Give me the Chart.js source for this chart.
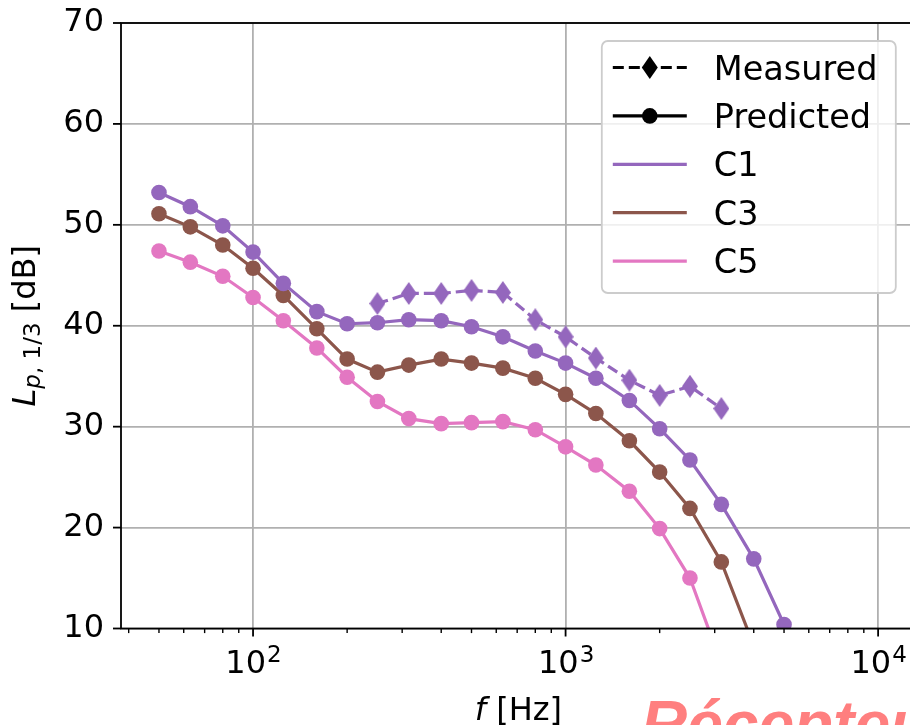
<!DOCTYPE html>
<html>
<head>
<meta charset="utf-8">
<script src="https://cdn.jsdelivr.net/npm/chart.js@4.4.1/dist/chart.umd.min.js"></script>
<style>
  html, body { margin: 0; padding: 0; background: #fff; overflow: hidden; }
  #wrap { position: relative; width: 910px; height: 725px; overflow: hidden; }
  #chart { position: absolute; left: 0; top: 0; }
  #stamp { position: absolute; left: 641px; top: 692px; font: italic bold 64px 'Liberation Sans', sans-serif;
           color: #ff7f7f; white-space: nowrap; line-height: 1; }
</style>
</head>
<body>
<div id="wrap">
  <canvas id="chart" width="930" height="725"></canvas>
  <div id="stamp">Récepteur</div>
</div>
<script>
// third-octave band centres [Hz]
const freqs = [50, 63, 80, 100, 125, 160, 200, 250, 315, 400, 500, 630, 800, 1000, 1250, 1600, 2000, 2500, 3150, 4000, 5000];

// predicted levels [dB] (null = below the plot)
const predC1 = [53.2, 51.8, 49.9, 47.3, 44.2, 41.4, 40.2, 40.3, 40.6, 40.5, 39.9, 38.9, 37.5, 36.3, 34.8, 32.6, 29.8, 26.7, 22.3, 16.9, 10.4];
const predC3 = [51.1, 49.8, 48.0, 45.7, 43.0, 39.7, 36.7, 35.4, 36.1, 36.7, 36.3, 35.8, 34.8, 33.2, 31.3, 28.6, 25.5, 21.9, 16.6, 8.3, null];
const predC5 = [47.4, 46.3, 44.9, 42.8, 40.5, 37.8, 34.9, 32.5, 30.8, 30.3, 30.4, 30.5, 29.7, 28.0, 26.2, 23.6, 19.9, 15.0, 6.5, null, null];

// measured levels, C1 only
const measFreqs = [250, 315, 400, 500, 630, 800, 1000, 1250, 1600, 2000, 2500, 3150];
const measC1 = [42.2, 43.2, 43.2, 43.5, 43.3, 40.6, 38.9, 36.8, 34.6, 33.1, 34.0, 31.8];

// axes
const xMin = 37.8, xMax = 13200;
const xMajorTicks = [100, 1000, 10000];
const yMin = 10, yMax = 70, yStep = 10;

const PURPLE = '#9467bd', BROWN = '#8c564b', PINK = '#e377c2';
const FONT = '"DejaVu Sans", sans-serif';

function toPoints(xs, ys) {
    return xs.map((x, i) => ({ x: x, y: ys[i] })).filter(p => p.y !== null);
}

// thin diamond marker (matplotlib 'd')
function thinDiamond(color, w, h) {
    const c = document.createElement('canvas');
    c.width = w; c.height = h;
    const g = c.getContext('2d');
    g.fillStyle = color;
    g.beginPath();
    g.moveTo(w / 2, 0); g.lineTo(w, h / 2); g.lineTo(w / 2, h); g.lineTo(0, h / 2);
    g.closePath();
    g.fill();
    return c;
}

function predDataset(label, ys, color) {
    return {
        label: label,
        data: toPoints(freqs, ys),
        borderColor: color,
        backgroundColor: color,
        borderWidth: 3.2,
        pointRadius: 7.8,
        pointBorderWidth: 0,
        pointBackgroundColor: color,
        pointHoverRadius: 7.8,
        tension: 0,
        clip: 0
    };
}

const legendItems = [
    { label: 'Measured', color: '#000', dash: [11, 5], marker: 'diamond' },
    { label: 'Predicted', color: '#000', dash: [], marker: 'circle' },
    { label: 'C1', color: PURPLE, dash: [], marker: null },
    { label: 'C3', color: BROWN, dash: [], marker: null },
    { label: 'C5', color: PINK, dash: [], marker: null }
];

// ticks, spines, axis labels drawn the matplotlib way
const axisDecor = {
    id: 'axisDecor',
    afterDatasetsDraw(chart) {
        const { ctx, chartArea: a, scales: { x, y } } = chart;
        ctx.save();
        ctx.strokeStyle = '#000';
        ctx.fillStyle = '#000';

        // spines
        ctx.lineWidth = 1.8;
        ctx.strokeRect(a.left, a.top, a.right - a.left, a.bottom - a.top);

        // y ticks
        for (let v = yMin; v <= yMax; v += yStep) {
            const py = y.getPixelForValue(v);
            ctx.beginPath(); ctx.moveTo(a.left - 8, py); ctx.lineTo(a.left, py); ctx.stroke();
        }
        // x major ticks
        xMajorTicks.forEach(v => {
            const px = x.getPixelForValue(v);
            ctx.beginPath(); ctx.moveTo(px, a.bottom); ctx.lineTo(px, a.bottom + 8); ctx.stroke();
        });
        // x minor ticks
        ctx.lineWidth = 1.4;
        [10, 100, 1000, 10000].forEach(dec => {
            for (let m = 2; m <= 9; m++) {
                const v = dec * m;
                if (v < xMin || v > xMax) continue;
                const px = x.getPixelForValue(v);
                ctx.beginPath(); ctx.moveTo(px, a.bottom); ctx.lineTo(px, a.bottom + 4.6); ctx.stroke();
            }
        });

        // x tick labels 10^n
        ctx.textAlign = 'left';
        ctx.textBaseline = 'alphabetic';
        xMajorTicks.forEach(v => {
            const px = x.getPixelForValue(v);
            const exp = String(Math.round(Math.log10(v)));
            ctx.font = '32px ' + FONT;
            const w1 = ctx.measureText('10').width;
            ctx.font = '23px ' + FONT;
            const w2 = ctx.measureText(exp).width;
            const left = px - (w1 + w2) / 2;
            ctx.font = '32px ' + FONT;
            ctx.fillText('10', left, a.bottom + 44.5);
            ctx.font = '23px ' + FONT;
            ctx.fillText(exp, left + w1 + 1, a.bottom + 33.5);
        });

        // x axis title
        ctx.font = 'italic 32px ' + FONT;
        const wf = ctx.measureText('f').width;
        ctx.font = '32px ' + FONT;
        const wr = ctx.measureText(' [Hz]').width;
        const cx = (a.left + a.right) / 2;
        let tx = cx - (wf + wr) / 2;
        ctx.font = 'italic 32px ' + FONT;
        ctx.fillText('f', tx, a.bottom + 91);
        ctx.font = '32px ' + FONT;
        ctx.fillText(' [Hz]', tx + wf, a.bottom + 91);

        // y axis title  L_{p, 1/3} [dB]
        const parts = [
            { t: 'L', f: 'italic 32px ', dy: 0 },
            { t: 'p', f: 'italic 23px ', dy: 5 },
            { t: ', 1/3', f: '23px ', dy: 5 },
            { t: ' [dB]', f: '32px ', dy: 0 }
        ];
        let total = 0;
        parts.forEach(p => { ctx.font = p.f + FONT; p.w = ctx.measureText(p.t).width; total += p.w; });
        ctx.translate(35, (a.top + a.bottom) / 2);
        ctx.rotate(-Math.PI / 2);
        let px0 = -total / 2;
        parts.forEach(p => {
            ctx.font = p.f + FONT;
            ctx.fillText(p.t, px0, p.dy);
            px0 += p.w;
        });
        ctx.restore();
    },
    afterDraw(chart) {
        const { ctx, chartArea: a } = chart;
        const right = a.right - 20, top = a.top + 18;
        const w = 294, h = 252, left = right - w;
        ctx.save();
        ctx.beginPath();
        ctx.roundRect(left, top, w, h, 6);
        ctx.fillStyle = 'rgba(255,255,255,0.8)';
        ctx.fill();
        ctx.strokeStyle = '#cccccc';
        ctx.lineWidth = 1.8;
        ctx.stroke();

        ctx.font = '33.5px ' + FONT;
        ctx.textAlign = 'left';
        ctx.textBaseline = 'alphabetic';
        legendItems.forEach((it, i) => {
            const base = top + 38.5 + i * 48.4;
            const ly = base - 12;
            ctx.strokeStyle = it.color;
            ctx.fillStyle = it.color;
            ctx.lineWidth = 3.2;
            ctx.setLineDash(it.dash);
            ctx.beginPath(); ctx.moveTo(left + 11, ly); ctx.lineTo(left + 85, ly); ctx.stroke();
            ctx.setLineDash([]);
            const mx = left + 48;
            if (it.marker === 'circle') {
                ctx.beginPath(); ctx.arc(mx, ly, 7.8, 0, Math.PI * 2); ctx.fill();
            } else if (it.marker === 'diamond') {
                ctx.beginPath();
                ctx.moveTo(mx, ly - 11.5); ctx.lineTo(mx + 8, ly); ctx.lineTo(mx, ly + 11.5); ctx.lineTo(mx - 8, ly);
                ctx.closePath(); ctx.fill();
            }
            ctx.fillStyle = '#000';
            ctx.fillText(it.label, left + 112, base);
        });
        ctx.restore();
    }
};

const isDecade = v => Math.abs(Math.log10(v) - Math.round(Math.log10(v))) < 1e-6;

new Chart(document.getElementById('chart'), {
    type: 'line',
    data: {
        datasets: [
            predDataset('C1', predC1, PURPLE),
            predDataset('C3', predC3, BROWN),
            predDataset('C5', predC5, PINK),
            {
                label: 'C1 measured',
                data: toPoints(measFreqs, measC1),
                borderColor: PURPLE,
                backgroundColor: PURPLE,
                borderWidth: 3.2,
                borderDash: [11, 5],
                pointStyle: thinDiamond(PURPLE, 16, 23),
                pointRadius: 11,
                tension: 0,
                clip: 0
            }
        ]
    },
    options: {
        responsive: false,
        animation: false,
        events: [],
        layout: { padding: { top: 23, right: 14, left: 0, bottom: 0 } },
        plugins: {
            legend: { display: false },
            tooltip: { enabled: false }
        },
        scales: {
            x: {
                type: 'logarithmic',
                min: xMin,
                max: xMax,
                afterBuildTicks: s => { s.ticks = xMajorTicks.map(v => ({ value: v })); },
                afterFit: s => { s.height = 96.5; s.paddingLeft = 0; s.paddingRight = 0; },
                ticks: { display: false },
                border: { display: false },
                grid: {
                    drawTicks: false,
                    color: c => (c.tick && isDecade(c.tick.value)) ? '#b0b0b0' : 'rgba(0,0,0,0)',
                    lineWidth: 1.8
                }
            },
            y: {
                type: 'linear',
                min: yMin,
                max: yMax,
                afterFit: s => { s.width = 121; s.paddingTop = 0; s.paddingBottom = 0; },
                ticks: {
                    stepSize: yStep,
                    padding: 17,
                    color: '#000',
                    font: { family: 'DejaVu Sans', size: 32 }
                },
                border: { display: false },
                grid: { drawTicks: false, color: '#b0b0b0', lineWidth: 1.8 }
            }
        }
    },
    plugins: [axisDecor]
});
</script>
</body>
</html>
